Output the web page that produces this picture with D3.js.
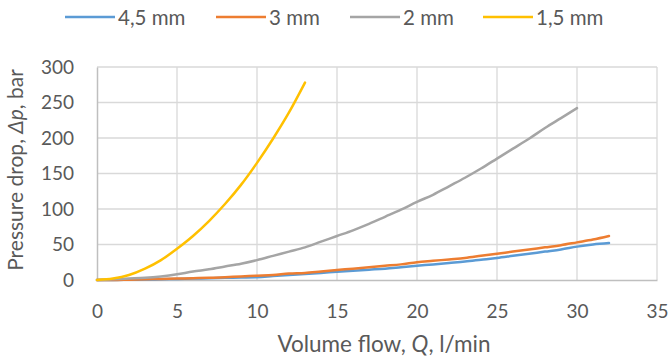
<!DOCTYPE html>
<html>
<head>
<meta charset="utf-8">
<script src="https://cdn.jsdelivr.net/npm/d3@7"></script>
<style>
  body { margin: 0; background: #fff; }
  text { font-family: Lato, "Open Sans", sans-serif; fill: #595959; }
</style>
</head>
<body>
<div id="chart"></div>
<script>
// flow values (l/min) and pressure drop (bar) per orifice size
var flow45 = d3.range(0, 33);
var dp45 = [0, 0, 0.3, 0.6, 1, 1.5, 2, 2.5, 3, 3.5, 4, 5.5, 7, 8.5, 10, 11.5, 13, 14.5, 16, 18, 20,
            22, 24, 26, 28.5, 31, 34, 37, 40, 43, 47, 50, 52];
var flow3 = d3.range(0, 33);
var dp3 = [0, 0, 0.5, 1, 1.5, 2, 2.5, 3, 4, 5, 6, 7, 9, 10, 12, 14, 16, 18, 20, 22, 25,
           27, 29, 31, 34, 37, 40, 43, 46, 49, 53, 57, 62];
var flow2 = d3.range(0, 31);
var dp2 = [0, 1, 2, 3, 5, 8, 12, 15, 19, 23, 28, 34, 40, 46, 54, 62, 70, 79, 89, 99, 110,
           120, 132, 144, 157, 171, 185, 199, 214, 228, 242];
var flow15 = d3.range(0, 14);
var dp15 = [0, 2, 7, 16, 28, 44, 62, 83, 107, 134, 165, 199, 236, 278];

var seriesNames = ["4,5 mm", "3 mm", "2 mm", "1,5 mm"];
var seriesColors = ["#5B9BD5", "#ED7D31", "#A5A5A5", "#FFC000"];
var xTicks = [0, 5, 10, 15, 20, 25, 30, 35];
var yTicks = [0, 50, 100, 150, 200, 250, 300];

var width = 670, height = 362;

var svg = d3.select("#chart").append("svg")
    .attr("width", width)
    .attr("height", height);

var x = d3.scaleLinear().domain([0, 35]).range([97, 657]);
var y = d3.scaleLinear().domain([0, 300]).range([280, 67]);

// gridlines
svg.append("g")
    .selectAll("line.h")
    .data(yTicks.slice(1))
    .enter().append("line")
    .attr("x1", x(0)).attr("x2", x(35))
    .attr("y1", function(d) { return y(d); })
    .attr("y2", function(d) { return y(d); })
    .attr("stroke", "#D9D9D9").attr("stroke-width", 1.3);

svg.append("g")
    .selectAll("line.v")
    .data(xTicks.slice(1))
    .enter().append("line")
    .attr("x1", function(d) { return x(d); })
    .attr("x2", function(d) { return x(d); })
    .attr("y1", y(0)).attr("y2", y(300))
    .attr("stroke", "#D9D9D9").attr("stroke-width", 1.3);

// axes
var xAxis = d3.axisBottom(x).tickValues(xTicks).tickSize(0).tickPadding(25);
var yAxis = d3.axisLeft(y).tickValues(yTicks).tickSize(0).tickPadding(23);

var gx = svg.append("g").attr("transform", "translate(0," + y(0) + ")").call(xAxis);
var gy = svg.append("g").attr("transform", "translate(" + x(0) + ",0)").call(yAxis);

[gx, gy].forEach(function(g) {
  g.select(".domain").attr("stroke", "#BFBFBF").attr("stroke-width", 1.5);
  g.selectAll("text").style("font-size", "19px").attr("fill", "#595959");
});

// series
var allSeries = [
  { xs: flow45, ys: dp45 },
  { xs: flow3, ys: dp3 },
  { xs: flow2, ys: dp2 },
  { xs: flow15, ys: dp15 }
];

var line = d3.line()
    .x(function(d) { return x(d[0]); })
    .y(function(d) { return y(d[1]); })
    .curve(d3.curveMonotoneX);

allSeries.forEach(function(s, i) {
  svg.append("path")
      .datum(d3.zip(s.xs, s.ys))
      .attr("d", line)
      .attr("fill", "none")
      .attr("stroke", seriesColors[i])
      .attr("stroke-width", 2.5)
      .attr("stroke-linecap", "round")
      .attr("stroke-linejoin", "round");
});

// axis titles
var xt = svg.append("text")
    .attr("x", 384)
    .attr("y", 352)
    .attr("text-anchor", "middle")
    .style("font-size", "22.5px");
xt.append("tspan").text("Volume flow, ");
xt.append("tspan").style("font-style", "italic").text("Q");
xt.append("tspan").text(", l/min");

var yt = svg.append("text")
    .attr("transform", "translate(23,170) rotate(-90)")
    .attr("text-anchor", "middle")
    .style("font-size", "21px");
yt.append("tspan").text("Pressure drop, ");
yt.append("tspan").style("font-style", "italic").text("Δp");
yt.append("tspan").text(", bar");

// legend
var legendX = [65, 216, 350, 483];
var legend = svg.append("g");
seriesNames.forEach(function(name, i) {
  legend.append("line")
      .attr("x1", legendX[i]).attr("x2", legendX[i] + 50)
      .attr("y1", 17).attr("y2", 17)
      .attr("stroke", seriesColors[i]).attr("stroke-width", 2.5);
  legend.append("text")
      .attr("x", legendX[i] + 53)
      .attr("y", 25)
      .style("font-size", "20.5px")
      .text(name);
});
</script>
</body>
</html>
